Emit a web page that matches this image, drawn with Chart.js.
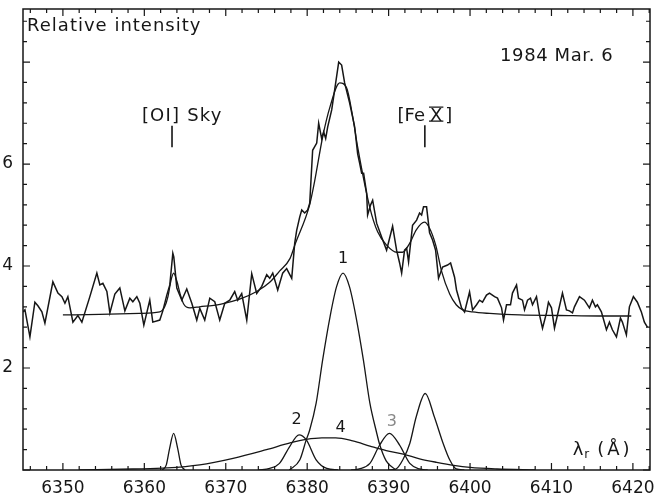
<!DOCTYPE html>
<html>
<head>
<meta charset="utf-8">
<script src="https://cdn.jsdelivr.net/npm/chart.js@4.4.0/dist/chart.umd.min.js"></script>
<style>
  html, body { margin: 0; padding: 0; background: #fff; }
  #wrap { width: 665px; height: 495px; }
</style>
</head>
<body>
<div id="wrap"><canvas id="spectrumChart" width="665" height="495"></canvas></div>
<script>
// observed spectrum (wavelength in Å, relative intensity)
const obsWave = [6345.1, 6345.34, 6345.95, 6346.56, 6346.93, 6347.42, 6347.79, 6348.77, 6349.39, 6349.88,
  6350.25, 6350.61, 6351.23, 6351.84, 6352.33, 6353.31, 6354.17, 6354.54, 6354.91, 6355.4,
  6355.77, 6356.38, 6356.99, 6357.61, 6358.22, 6358.59, 6359.08, 6359.45, 6359.94, 6360.67,
  6361.04, 6361.9, 6362.27, 6362.76, 6363.13, 6363.5, 6363.62, 6363.99, 6364.6, 6365.21,
  6365.83, 6366.44, 6366.81, 6367.42, 6368.04, 6368.65, 6369.26, 6369.88, 6370.49, 6371.1,
  6371.47, 6371.96, 6372.58, 6373.19, 6373.8, 6374.42, 6375.03, 6375.4, 6375.77, 6376.38,
  6376.99, 6377.48, 6378.1, 6378.47, 6378.71, 6379.08, 6379.33, 6379.69, 6380.06, 6380.31,
  6380.67, 6381.17, 6381.41, 6381.78, 6382.02, 6382.27, 6382.52, 6383.01, 6383.37, 6383.87,
  6384.23, 6384.6, 6385.21, 6385.58, 6385.83, 6386.2, 6386.44, 6386.69, 6386.93, 6387.3,
  6387.42, 6387.79, 6388.04, 6388.53, 6389.14, 6389.75, 6390.49, 6390.98, 6391.35, 6391.6,
  6391.96, 6392.21, 6392.45, 6392.94, 6393.44, 6393.8, 6394.05, 6394.29, 6394.66, 6395.03,
  6395.4, 6395.77, 6396.13, 6396.63, 6397.24, 6397.61, 6398.1, 6398.34, 6398.96, 6399.33,
  6399.94, 6400.31, 6400.8, 6401.17, 6401.53, 6402.02, 6402.39, 6403.01, 6403.37, 6403.87,
  6404.11, 6404.48, 6404.97, 6405.21, 6405.71, 6405.95, 6406.44, 6406.69, 6407.06, 6407.42,
  6407.67, 6408.16, 6408.53, 6408.9, 6409.39, 6409.63, 6410.0, 6410.37, 6410.74, 6411.35,
  6411.84, 6412.21, 6412.58, 6412.82, 6413.44, 6414.05, 6414.66, 6415.03, 6415.4, 6415.64,
  6416.13, 6416.75, 6417.12, 6417.48, 6417.98, 6418.47, 6418.71, 6419.2, 6419.57, 6420.06,
  6420.55, 6421.04, 6421.41, 6421.78];
const obsInt = [3.10, 3.14, 2.61, 3.29, 3.22, 3.10, 2.88, 3.69, 3.47, 3.40,
  3.27, 3.40, 2.90, 3.03, 2.90, 3.40, 3.86, 3.63, 3.66, 3.50,
  3.08, 3.45, 3.57, 3.12, 3.37, 3.30, 3.40, 3.27, 2.84, 3.33,
  2.90, 2.94, 3.12, 3.43, 3.63, 4.25, 4.18, 3.57, 3.33, 3.55,
  3.27, 2.94, 3.17, 2.94, 3.37, 3.30, 2.94, 3.27, 3.33, 3.50,
  3.33, 3.46, 2.94, 3.85, 3.46, 3.60, 3.83, 3.76, 3.86, 3.53,
  3.86, 3.95, 3.76, 4.45, 4.70, 4.96, 5.10, 5.04, 5.10, 5.23,
  6.27, 6.41, 6.80, 6.50, 6.63, 6.50, 6.73, 7.06, 7.45, 8.00,
  7.94, 7.59, 7.20, 6.92, 6.73, 6.20, 6.02, 5.82, 5.82, 5.43,
  5.00, 5.20, 5.29, 4.84, 4.57, 4.31, 4.78, 4.31, 4.06, 3.86,
  4.31, 4.35, 4.08, 4.80, 4.90, 5.04, 5.00, 5.16, 5.16, 4.65,
  4.51, 4.31, 3.76, 3.98, 4.02, 4.06, 3.78, 3.53, 3.18, 3.10,
  3.49, 3.14, 3.24, 3.33, 3.29, 3.43, 3.47, 3.40, 3.37, 3.18,
  2.94, 3.24, 3.24, 3.47, 3.63, 3.37, 3.33, 3.14, 3.33, 3.37,
  3.24, 3.40, 3.04, 2.78, 3.08, 3.29, 3.18, 2.78, 3.04, 3.47,
  3.14, 3.12, 3.08, 3.20, 3.40, 3.33, 3.18, 3.33, 3.20, 3.24,
  3.10, 2.75, 2.90, 2.75, 2.61, 2.98, 2.90, 2.65, 3.20, 3.40,
  3.29, 3.10, 2.90, 2.80];

// total fitted profile
const fitWave = [6350, 6354.5, 6359.4, 6361.9, 6362.5, 6362.9, 6363.25, 6363.6, 6364.0, 6364.4,
  6364.85, 6365.6, 6366.8, 6369.3, 6371.7, 6373.8, 6375.4, 6376.6, 6377.9, 6378.5,
  6380.3, 6380.9, 6381.9, 6382.8, 6384.0, 6384.85, 6385.6, 6386.2, 6387.7, 6388.65,
  6389.75, 6391.0, 6391.7, 6392.6, 6393.4, 6394.4, 6395.0, 6395.8, 6396.5, 6397.5,
  6398.3, 6399.1, 6400.3, 6402.4, 6406.1, 6411.0, 6415.9, 6419.8];
const fitInt = [3.04, 3.05, 3.07, 3.10, 3.20, 3.40, 3.70, 3.86, 3.70, 3.45,
  3.25, 3.18, 3.20, 3.25, 3.35, 3.50, 3.68, 3.90, 4.15, 4.42,
  5.20, 5.65, 6.53, 7.12, 7.59, 7.49, 6.92, 6.33, 5.14, 4.67,
  4.41, 4.27, 4.27, 4.45, 4.71, 4.86, 4.75, 4.40, 3.90, 3.45,
  3.24, 3.14, 3.10, 3.07, 3.04, 3.03, 3.02, 3.02];

// gaussian components
const c1Wave = [6377.8, 6379.1, 6379.9, 6380.3, 6381.1, 6381.9, 6382.8, 6383.6, 6384.4, 6385.2, 6386.0, 6386.9, 6387.7, 6388.5, 6388.9, 6389.7, 6390.9];
const c1Int = [0, 0.2, 0.6, 0.78, 1.31, 2.16, 3.0, 3.59, 3.86, 3.59, 3.0, 2.16, 1.31, 0.75, 0.5, 0.18, 0];
const c2Wave = [6374.0, 6375.4, 6376.6, 6377.85, 6379.0, 6379.9, 6381.1, 6382.4, 6383.8];
const c2Int = [0, 0.03, 0.13, 0.46, 0.69, 0.59, 0.2, 0.03, 0];
const c3Wave = [6385.4, 6386.4, 6387.7, 6388.9, 6390.1, 6391.35, 6392.6, 6393.8, 6394.8];
const c3Int = [0, 0.02, 0.13, 0.49, 0.72, 0.49, 0.13, 0.02, 0];
const c4Wave = [6352.0, 6358.6, 6362.8, 6366.8, 6370.9, 6375.0, 6377.9, 6379.9, 6381.8, 6383.5, 6385.6, 6387.7, 6389.7, 6391.8, 6393.8, 6395.9, 6398.0, 6400.0, 6403.3, 6408.0];
const c4Int = [0, 0.02, 0.04, 0.1, 0.23, 0.4, 0.53, 0.6, 0.63, 0.63, 0.57, 0.47, 0.38, 0.31, 0.22, 0.15, 0.09, 0.05, 0.02, 0];
const feWave = [6390.0, 6390.9, 6391.75, 6392.6, 6393.4, 6394.5, 6395.6, 6396.7, 6397.5, 6398.3, 6399.3];
const feInt = [0, 0.02, 0.2, 0.52, 1.05, 1.5, 1.05, 0.52, 0.2, 0.02, 0];
const skyWave = [6362.2, 6362.7, 6363.1, 6363.6, 6364.1, 6364.5, 6365.0];
const skyInt = [0, 0.1, 0.42, 0.72, 0.42, 0.1, 0];

// axes
const xTickLabels = [6350, 6360, 6370, 6380, 6390, 6400, 6410, 6420];
const yTickLabels = [2, 4, 6];
const xMin = 6345.1, xMax = 6422.1;
const yMin = 0, yMax = 9.04;

const ink = "#161616";
const family = '"DejaVu Sans", sans-serif';

const pts = (xs, ys) => xs.map((x, i) => ({ x: x, y: ys[i] }));

function lineSet(xs, ys, width, smooth) {
  return {
    data: pts(xs, ys),
    showLine: true,
    borderColor: ink,
    borderWidth: width,
    pointRadius: 0,
    fill: false,
    tension: 0,
    cubicInterpolationMode: smooth ? "monotone" : "default"
  };
}

// frame, inward ticks and the annotations
const decorPlugin = {
  id: "decor",
  afterDraw(chart) {
    const { ctx, chartArea: a, scales } = chart;
    const sx = v => scales.x.getPixelForValue(v);
    const sy = v => scales.y.getPixelForValue(v);
    ctx.save();
    ctx.strokeStyle = ink;
    ctx.fillStyle = ink;
    ctx.lineWidth = 1.5;
    ctx.strokeRect(a.left, a.top, a.right - a.left, a.bottom - a.top);

    ctx.lineWidth = 1.2;
    ctx.beginPath();
    for (let v = 6346; v <= 6422; v += 2) {
      const px = sx(v);
      const len = v % 10 === 0 ? 7 : 4;
      ctx.moveTo(px, a.bottom); ctx.lineTo(px, a.bottom - len);
      ctx.moveTo(px, a.top); ctx.lineTo(px, a.top + len);
    }
    for (let k = 0; k <= 22; k++) {
      const py = sy(k * 0.4);
      const len = k % 5 === 0 ? 7 : 4;
      ctx.moveTo(a.left, py); ctx.lineTo(a.left + len, py);
      ctx.moveTo(a.right, py); ctx.lineTo(a.right - len, py);
    }
    ctx.stroke();

    const text = (s, x, y, align, size, spacing, color) => {
      ctx.font = size + "px " + family;
      ctx.letterSpacing = (spacing || 0) + "px";
      ctx.textAlign = align;
      ctx.textBaseline = "middle";
      ctx.fillStyle = color || ink;
      ctx.fillText(s, sx(x), sy(y));
      ctx.letterSpacing = "0px";
    };
    text("Relative intensity", 6345.6, 8.7, "left", 18, 1);
    text("1984 Mar. 6", 6417.6, 8.12, "right", 18, 0.6);
    text("[OI] Sky", 6359.7, 6.94, "left", 18, 1.2);

    // [Fe X] with a barred roman numeral
    ctx.font = "18px " + family;
    ctx.textAlign = "left";
    ctx.textBaseline = "alphabetic";
    ctx.fillStyle = ink;
    let px = sx(6391.1);
    const base = sy(6.98) + 6.5;
    const capH = 13;
    ctx.fillText("[Fe", px, base);
    px += ctx.measureText("[Fe").width + 5;
    const wX = ctx.measureText("X").width;
    ctx.fillText("X", px, base);
    ctx.lineWidth = 1.3;
    ctx.beginPath();
    ctx.moveTo(px - 1, base - capH - 0.5); ctx.lineTo(px + wX + 1, base - capH - 0.5);
    ctx.moveTo(px - 1, base + 0.5); ctx.lineTo(px + wX + 1, base + 0.5);
    ctx.stroke();
    ctx.fillText("]", px + wX + 3, base);

    // line markers
    ctx.lineWidth = 1.6;
    ctx.beginPath();
    ctx.moveTo(sx(6363.4), sy(6.75)); ctx.lineTo(sx(6363.4), sy(6.33));
    ctx.moveTo(sx(6394.45), sy(6.76)); ctx.lineTo(sx(6394.45), sy(6.33));
    ctx.stroke();

    text("1", 6384.4, 4.14, "center", 16);
    text("2", 6378.7, 0.98, "center", 16);
    text("4", 6384.1, 0.82, "center", 16);
    text("3", 6390.4, 0.94, "center", 16, 0, "#888");

    // lambda_r (Å)
    ctx.fillStyle = ink;
    ctx.font = "18px " + family;
    ctx.textAlign = "left";
    ctx.textBaseline = "middle";
    let lx = sx(6412.6);
    const ly = sy(0.39);
    ctx.fillText("λ", lx, ly);
    lx += ctx.measureText("λ").width + 1;
    ctx.font = "12px " + family;
    ctx.fillText("r", lx, ly + 5);
    lx += ctx.measureText("r").width + 8;
    ctx.font = "18px " + family;
    ctx.letterSpacing = "3px";
    ctx.fillText("(Å)", lx, ly);
    ctx.letterSpacing = "0px";
    ctx.restore();
  }
};

new Chart(document.getElementById("spectrumChart"), {
  type: "scatter",
  data: {
    datasets: [
      lineSet(obsWave, obsInt, 1.5, false),
      lineSet(fitWave, fitInt, 1.3, true),
      lineSet(c1Wave, c1Int, 1.3, true),
      lineSet(c2Wave, c2Int, 1.3, true),
      lineSet(c3Wave, c3Int, 1.3, true),
      lineSet(c4Wave, c4Int, 1.3, true),
      lineSet(feWave, feInt, 1.3, true),
      lineSet(skyWave, skyInt, 1.3, true)
    ]
  },
  plugins: [decorPlugin],
  options: {
    responsive: false,
    animation: false,
    layout: { padding: { top: 9, right: 15, left: 0, bottom: 0 } },
    plugins: {
      legend: { display: false },
      tooltip: { enabled: false }
    },
    scales: {
      x: {
        type: "linear",
        position: "bottom",
        min: xMin,
        max: xMax,
        afterBuildTicks: s => { s.ticks = xTickLabels.map(v => ({ value: v })); },
        afterFit: s => { s.height = 25; s.paddingLeft = 0; s.paddingRight = 0; },
        grid: { display: false, drawTicks: false },
        border: { display: false },
        ticks: {
          color: ink,
          font: { family: family, size: 17 },
          padding: 8,
          maxRotation: 0,
          autoSkip: false,
          callback: v => String(v)
        }
      },
      y: {
        type: "linear",
        min: yMin,
        max: yMax,
        afterBuildTicks: s => { s.ticks = yTickLabels.map(v => ({ value: v })); },
        afterFit: s => { s.width = 23; s.paddingTop = 0; s.paddingBottom = 0; },
        grid: { display: false, drawTicks: false },
        border: { display: false },
        ticks: {
          color: ink,
          font: { family: family, size: 17 },
          padding: 10,
          autoSkip: false,
          callback: v => String(v)
        }
      }
    }
  }
});
</script>
</body>
</html>
